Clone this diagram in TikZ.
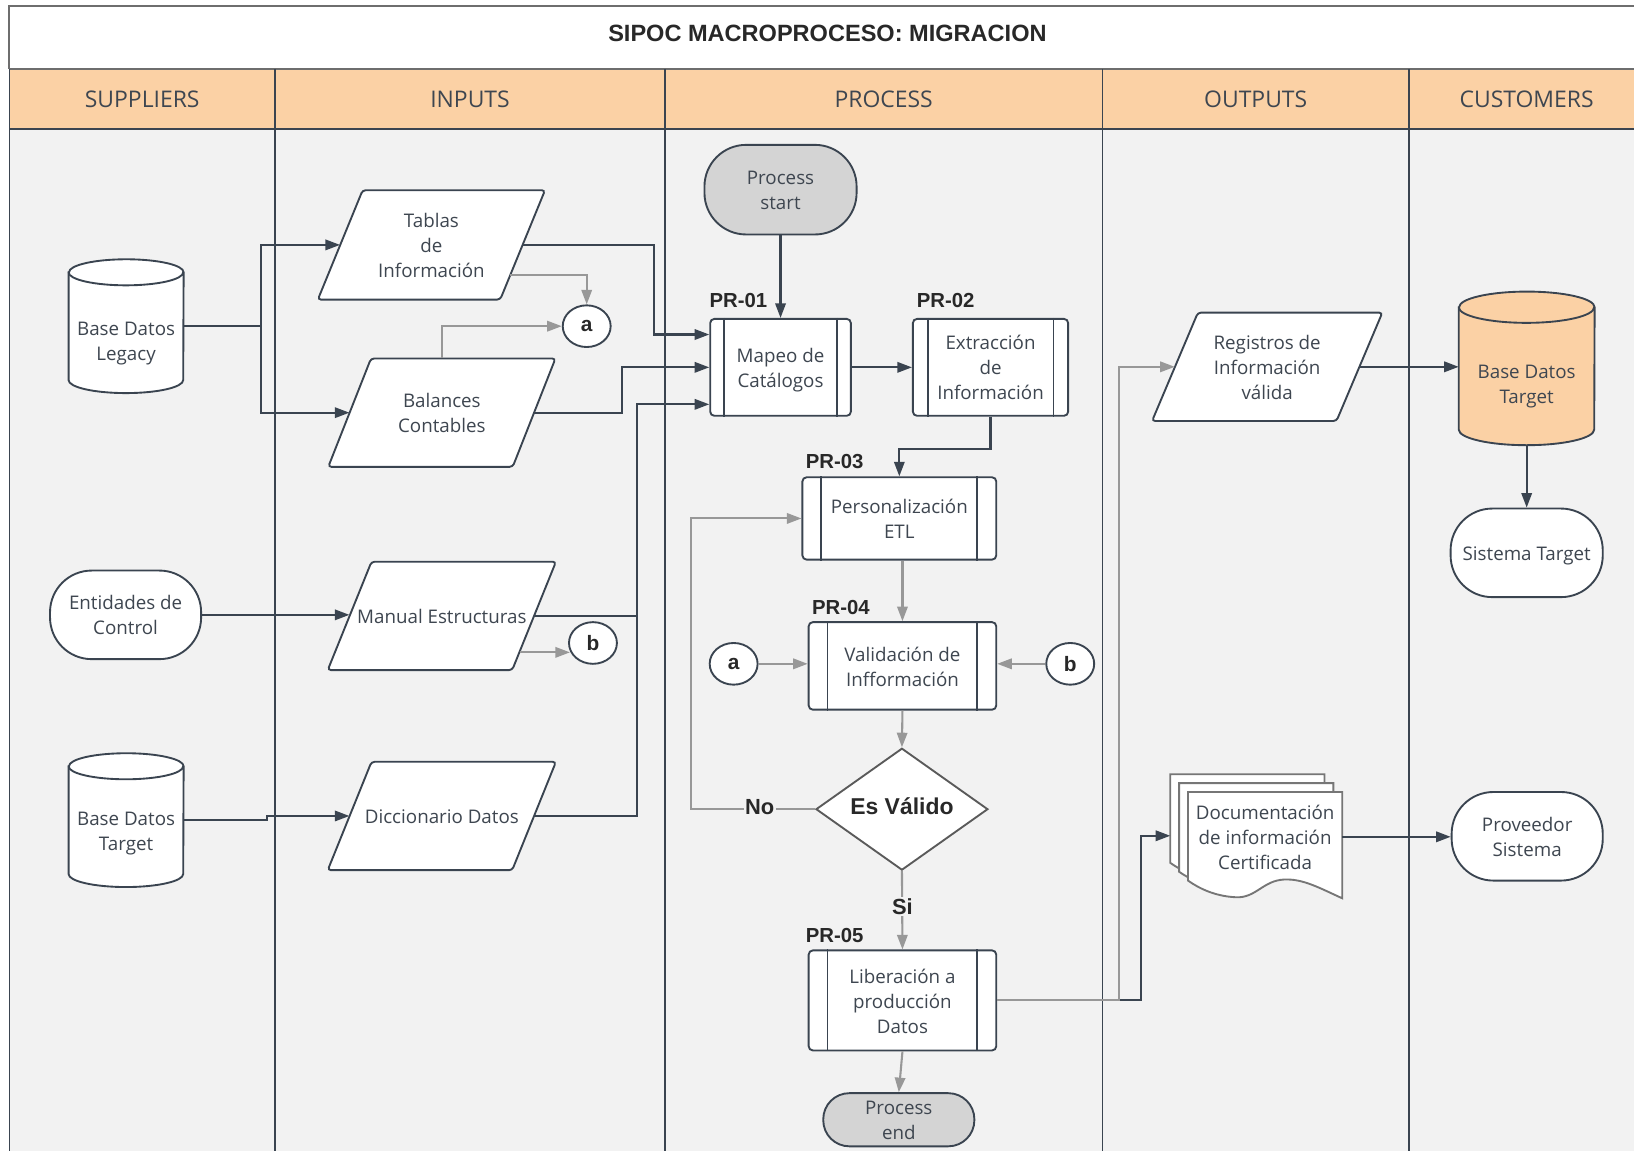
\documentclass[tikz,border=0pt]{standalone}
\usepackage{fontspec}
\setmainfont{Open Sans}
\newfontfamily\arialf{Liberation Sans}
\usetikzlibrary{arrows.meta,shapes.geometric,calc}
\definecolor{linec}{RGB}{58,68,80}
\definecolor{textc}{RGB}{62,70,80}
\definecolor{greyc}{RGB}{152,152,152}
\definecolor{peach}{RGB}{251,209,165}
\definecolor{lanebg}{RGB}{242,242,242}
\definecolor{startbg}{RGB}{212,212,212}
\definecolor{framec}{RGB}{110,110,110}
\definecolor{docc}{RGB}{118,118,118}
\definecolor{diac}{RGB}{90,90,90}
\definecolor{boldc}{RGB}{40,40,40}
\newcommand\mybody{\fontsize{18}{24}\selectfont}
\newcommand\myhead{\fontsize{22}{26}\selectfont}
\newcommand\mybold[1]{\arialf\bfseries\fontsize{#1}{#1}\selectfont}
\newcommand\tx[1]{\raisebox{-2.5pt}[\height][\depth]{\begin{tabular}{@{}c@{}}#1\end{tabular}}}
% parallelogram: name, cx, cy, L, h, s, text
\newcommand\para[7]{%
  \draw[shapeline, fill=white, rounded corners=3pt] ({#2-#4/2+#6/2},{#3-#5/2}) -- ({#2+#4/2+#6/2},{#3-#5/2}) -- ({#2+#4/2-#6/2},{#3+#5/2}) -- ({#2-#4/2-#6/2},{#3+#5/2}) -- cycle;
  \node[lbl, minimum width=#4pt, minimum height=#5pt] (#1) at (#2,#3) {\tx{#7}};}
% cylinder: name, cx, cy, w, h, ry, fill
\newcommand\cylin[7]{%
  \node[minimum width=#4pt, minimum height=#5pt, inner sep=0pt] (#1) at (#2,#3) {};
  \draw[shapeline, fill=#7] ($(#1.north west)+(0pt,-#6pt)$) -- ($(#1.south west)+(0pt,#6pt)$) arc[start angle=180, end angle=360, x radius={#4pt/2}, y radius=#6pt] -- ($(#1.north east)+(0pt,-#6pt)$) arc[start angle=0, end angle=180, x radius={#4pt/2}, y radius=#6pt] -- cycle;
  \draw[shapeline] ($(#1.north west)+(0pt,-#6pt)$) arc[start angle=180, end angle=360, x radius={#4pt/2}, y radius=#6pt];}
% process box: name, cx, cy, w, h, inset, text
\newcommand\procbox[7]{%
  \node[proc, minimum width=#4pt, minimum height=#5pt] (#1) at (#2,#3) {\tx{#7}};
  \draw[shapeline] ($(#1.north west)+(#6pt,0pt)$) -- ($(#1.south west)+(#6pt,0pt)$);
  \draw[shapeline] ($(#1.north east)+(-#6pt,0pt)$) -- ($(#1.south east)+(-#6pt,0pt)$);}
% document shape: shift x, shift y
\newcommand\docshape[2]{%
  \draw[draw=docc, line width=1.8pt, fill=white, shift={(#1pt,#2pt)}] (1140,760) -- (1288,760) -- (1288,862) .. controls (1266,852) and (1250,843) .. (1232,844) .. controls (1212,845) and (1205,862) .. (1186,861) .. controls (1165,860) and (1150,852) .. (1140,845) -- cycle;}
\begin{document}
\begin{tikzpicture}[x=1pt,y=-1pt,
  shapeline/.style={draw=linec, line width=1.8pt},
  lbl/.style={font=\mybody, text=textc, inner sep=0pt},
  term/.style={lbl, draw=linec, line width=1.8pt, fill=white, rounded corners=40pt},
  proc/.style={lbl, draw=linec, line width=1.8pt, fill=white, rounded corners=4pt},
  hdr/.style={font=\myhead, text=textc},
  prl/.style={font=\mybold{19.5}, text=boldc, inner sep=0pt},
  conn/.style={ellipse, draw=linec, line width=1.8pt, fill=white, minimum width=46pt, minimum height=40pt, inner sep=0pt, font=\mybold{20}, text=boldc},
  dk/.style={draw=linec, line width=2pt, -{Triangle[length=14pt,width=10pt]}},
  dkn/.style={draw=linec, line width=2pt},
  gr/.style={draw=greyc, line width=2pt, -{Triangle[length=14pt,width=10pt]}},
  tag/.style={font=\mybold{21}, text=boldc, fill=lanebg, inner sep=1.5pt}]
\useasboundingbox (0,0) rectangle (1568,1104);
\clip (0,0) rectangle (1568,1104);
\fill[white] (0,0) rectangle (1568,1104);
% ---- frame and lanes
\fill[lanebg] (9,124) rectangle (1600,1130);
\fill[peach] (9,66) rectangle (1600,124);
\draw[framec, line width=2pt] (9,66) -- (9,6) -- (1600,6);
\draw[framec, line width=1.5pt] (9,66) -- (1600,66);
\draw[linec, line width=1.6pt] (9,124) -- (1600,124);
\draw[linec, line width=1.6pt] (9,66) -- (9,1130);
\foreach \xx in {264,638,1058,1352} \draw[linec, line width=1.7pt] (\xx,66) -- (\xx,1130);
\node[font=\mybold{22.6}, text=boldc] (title) at (794,32) {SIPOC MACROPROCESO: MIGRACION};
\node[hdr] (h1) at (136.5,95) {SUPPLIERS};
\node[hdr] (h2) at (451,95) {INPUTS};
\node[hdr] (h3) at (848,95) {PROCESS};
\node[hdr] (h4) at (1205,95) {OUTPUTS};
\node[hdr] (h5) at (1465,95) {CUSTOMERS};
% ---- suppliers
\cylin{bdl}{121}{313}{110}{128}{12.5}{white}
\node[lbl] (bdltxt) at (121,326.5) {\tx{Base Datos\\Legacy}};
\node[term, minimum width=145pt, minimum height=85pt] (ent) at (120.5,590) {\tx{Entidades de\\Control}};
\cylin{bdt}{121}{787}{110}{128}{12.5}{white}
\node[lbl] (bdttxt) at (121,797) {\tx{Base Datos\\Target}};
% ---- inputs
\para{tab}{414}{235}{175}{105}{43}{Tablas\\de\\Información}
\para{bal}{424}{396}{177}{104}{41}{Balances\\Contables}
\para{man}{424}{591}{177}{104}{42}{Manual Estructuras}
\para{dic}{424}{783}{177}{104}{42}{Diccionario Datos}
\node[conn] (ca1) at (563,313) {a};
\node[conn] (cb1) at (569,617) {b};
% ---- process
\node[term, fill=startbg, minimum width=146pt, minimum height=86pt] (ps) at (749,182) {\tx{Process\\start}};
\procbox{m1}{749}{352.5}{135}{93}{14}{Mapeo de\\Catálogos}
\procbox{m2}{950.5}{352.5}{149}{93}{15}{Extracción\\de\\Información}
\procbox{m3}{863}{497.5}{186}{79}{19}{Personalización\\ETL}
\procbox{m4}{866}{639}{180}{84}{19}{Validación de\\Infformación}
\procbox{m5}{866}{960}{180}{96}{19}{Liberación a\\producción\\Datos}
\node[term, fill=startbg, rounded corners=25pt, minimum width=145pt, minimum height=51pt] (pe) at (862.5,1074.5) {\tx{Process\\end}};
\node[conn] (ca2) at (704,637) {a};
\node[conn] (cb2) at (1027,637) {b};
\node[diamond, draw=diac, line width=1.8pt, fill=white, minimum width=165pt, minimum height=117pt, inner sep=0pt, font=\mybold{22}, text=boldc] (dia) at (865.5,776.5) {\raisebox{2.5pt}[\height][\depth]{Es Válido}};
\node[prl] (p1) at (708.5,288) {PR-01};
\node[prl] (p2) at (907.5,288) {PR-02};
\node[prl] (p3) at (801,443) {PR-03};
\node[prl] (p4) at (807,583) {PR-04};
\node[prl] (p5) at (801,898) {PR-05};
% ---- outputs
\para{reg}{1216}{352}{177}{104}{44}{Registros de\\Información\\válida}
\docshape{-17}{17}
\docshape{-8.5}{8.5}
\docshape{0}{0}
\node[lbl, minimum width=148pt] (doc) at (1214,803) {\tx{Documentación\\de información\\Certificada}};
\coordinate (docin) at (1123,802);
% ---- customers
\cylin{bdc}{1465}{353.5}{130}{147}{15}{peach}
\node[lbl] (bdctxt) at (1465,368) {\tx{Base Datos\\Target}};
\node[term, minimum width=146pt, minimum height=85pt] (sis) at (1465,530.5) {\tx{Sistema Target}};
\node[term, minimum width=145pt, minimum height=85pt] (pro) at (1465.5,802.5) {\tx{Proveedor\\Sistema}};
% ---- dark connectors
\draw[dk] (bdl.east) -- ++(74,0) |- (tab.west);
\draw[dk] (bdl.east) -- ++(74,0) |- (bal.west);
\coordinate (j1) at (628,321);
\draw[dk] (tab.east) -| (j1) -- (j1 -| m1.west);
\draw[dk] (bal.east) -- (597,396) |- (m1.west);
\coordinate (j3) at (611,388);
\draw[dk] (man.east) -| (j3) -- (j3 -| m1.west);
\draw[dkn] (dic.east) -| (611,591);
\draw[dk] (ent.east) -- (ent.east -| man.west);
\draw[dk] (bdt.east) -- (256,787) -- (256,783) -- (dic.west);
\draw[dk] (ps.south) -- (m1.north);
\draw[dk] (m1.east) -- (m2.west);
\draw[dk] (m2.south) -- ++(0,31) -| (m3.north);
\draw[dk] (reg.east) -- (reg.east -| bdc.west);
\draw[dk] (bdc.south) -- (sis.north);
\draw[dk] (doc.east) -- (doc.east -| pro.west);
\draw[dk] (m5.east) -- (1095,960) |- (docin);
% ---- grey connectors
\coordinate (tabout) at ($(tab.east)+(-12pt,-29pt)$);
\draw[gr] (tabout) -| (ca1.north);
\draw[gr] (bal.north) |- (ca1.west);
\coordinate (manout) at ($(man.east)+(-14pt,-35pt)$);
\draw[gr] (manout) -- (manout -| cb1.200);
\draw[gr] (m4.north |- m3.south) -- (m4.north);
\draw[gr] (ca2.east) -- (ca2.east -| m4.west);
\draw[gr] (cb2.west) -- (cb2.west -| m4.east);
\draw[gr] (m4.south) -- (dia.north);
\draw[gr] (dia.west) -- (663,776.5) |- (m3.west);
\node[tag] (no) at (729,774) {No};
\draw[gr] (dia.south) -- (m5.north);
\node[tag] (si) at (866,870) {Si};
\draw[gr] (m5.south) -- (pe.north);
\draw[gr] (m5.east) -- (1074,960) |- (reg.west);
\end{tikzpicture}
\end{document}
